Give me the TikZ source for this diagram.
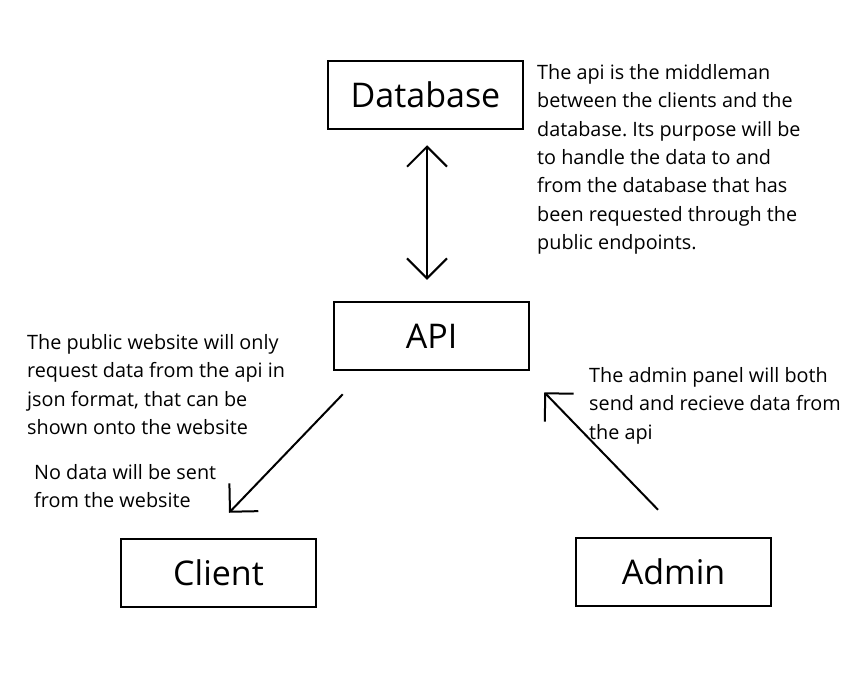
\documentclass[tikz,border=0pt]{standalone}
\usepackage{fontspec}
\setmainfont{Open Sans}
\frenchspacing
\usetikzlibrary{arrows.meta}
\begin{document}
\begin{tikzpicture}[x=1pt,y=-1pt,>={Straight Barb[length=20pt,width=40pt]},
	box/.style={draw,line width=2.5pt,minimum width=195pt,minimum height=68pt,inner sep=0pt,font=\fontsize{34}{40}\selectfont},
	note/.style={align=left,anchor=north west,inner sep=0pt,font=\fontsize{19.8}{28.4}\selectfont},
	link/.style={line width=2pt}]
		\path[fill=white,use as bounding box] (0,0) rectangle (850,689);
		\foreach \n/\x/\y/\t in {db/425.5/95/Database,api/431.5/336/API,client/218.5/573/Client,admin/673.5/572/Admin}{
			\node[box] (\n) at (\x,\y) {\t};
		}
		\draw[link,<->] ([shift={(1.5,15)}]db.south) -- ([shift={(-4.5,-21)}]api.north);
		\draw[link,->] ([shift={(10,23)}]api.south west) -- ([shift={(10.5,-25)}]client.north);
		\draw[link,->] ([shift={(-15.5,-27)}]admin.north) -- ([shift={(14,21)}]api.south east);
		\node[note] (dbnote) at (537,64) {The api is the middleman\\between the clients and the\\database. Its purpose will be\\to handle the data to and\\from the database that has\\been requested through the\\public endpoints.};
		\node[note] (clientnote) at (27,334) {The public website will only\\request data from the api in\\json format, that can be\\shown onto the website};
		\node[note] (sendnote) at (34,464) {No data will be sent\\from the website};
		\node[note] (adminnote) at (589,367) {The admin panel will both\\send and recieve data from\\the api};
	\end{tikzpicture}
\end{document}
